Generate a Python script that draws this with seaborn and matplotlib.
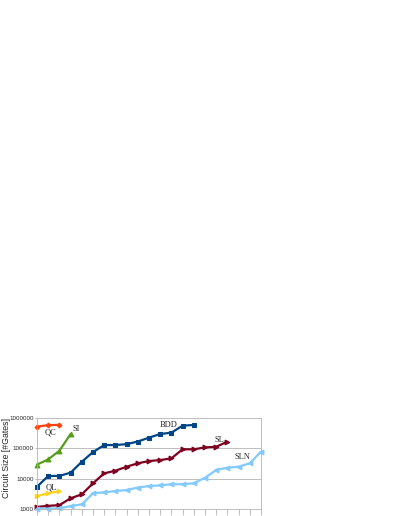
import matplotlib
matplotlib.use("Agg")
import matplotlib.pyplot as plt
import matplotlib.ticker as mticker
import numpy as np
import pandas as pd
import seaborn as sns

# circuit sizes (#gates) per benchmark index
qc = [520000, 580000, 590000]
si = [29000, 43000, 83000, 295000]
ql = [2700, 3270, 3900]
bdd = [5400, 12200, 12300, 15700, 36000, 75000, 128000, 128000, 137000,
       167000, 224000, 296000, 327000, 557000, 587000]
sl = [1170, 1270, 1340, 2250, 3040, 7000, 15000, 18200, 24700, 32000,
      38000, 41000, 46500, 92600, 92600, 107000, 112000, 165000]
sln = [1020, 1030, 1050, 1250, 1420, 3270, 3540, 3900, 4200, 5080, 5700,
       6000, 6500, 6600, 7000, 10700, 19200, 22900, 24700, 32000, 77000]

sns.set_style("white")
plt.rcParams["font.family"] = ["Liberation Sans", "DejaVu Sans"]

fig = plt.figure(figsize=(3.99, 5.16), dpi=100)
ax = fig.add_axes([0.0927, 0.0136, 0.5613, 0.1764])

series = [
    ("QC", qc, "#FF420E", "D", 2.5),
    ("SI", si, "#579D1C", "^", 3.5),
    ("QL", ql, "#FFD320", ">", 3.2),
    ("BDD", bdd, "#004586", "s", 3.5),
    ("SL", sl, "#7E0021", ">", 3.5),
    ("SLN", sln, "#83CAFF", "<", 3.5),
]
for name, vals, col, mk, ms in series:
    df = pd.DataFrame({"idx": np.arange(len(vals)), "gates": vals})
    sns.lineplot(data=df, x="idx", y="gates", color=col, marker=mk,
                 markersize=ms, markeredgecolor=col, linewidth=1.6, ax=ax,
                 clip_on=False)

ax.set_yscale("log")
ax.set_ylim(1000, 1000000)
ax.set_xlim(0, 20)
ax.yaxis.set_major_locator(mticker.LogLocator(base=10, numticks=10))
ax.yaxis.set_minor_locator(mticker.NullLocator())
ax.yaxis.set_major_formatter(mticker.FuncFormatter(lambda v, p: f"{int(round(v))}"))
ax.set_xticks(np.arange(0, 21))
ax.set_xticklabels([])
ax.tick_params(axis="x", length=4, width=0.6, color="#b3b3b3", direction="out", bottom=True)
ax.tick_params(axis="y", length=1.5, width=0.6, color="#b3b3b3", labelsize=4.5, pad=1, left=True)
ax.grid(axis="y", color="#b3b3b3", linewidth=0.6)
for s in ax.spines.values():
    s.set_color("#b3b3b3")
    s.set_linewidth(0.6)
ax.spines["top"].set_visible(False)
ax.set_xlabel("")
ax.set_ylabel("Circuit Size [#Gates]", fontsize=6.3)
ax.yaxis.set_label_coords(-0.118, 0.56)

lab = dict(fontsize=6, family=["Liberation Serif", "DejaVu Serif"], ha="center", va="center")
ax.text(1.2, 330000, "QC", **lab)
ax.text(3.5, 430000, "SI", **lab)
ax.text(1.3, 5200, "QL", **lab)
ax.text(11.8, 590000, "BDD", **lab)
ax.text(16.3, 190000, "SL", **lab)
ax.text(18.3, 52000, "SLN", **lab)

fig.savefig("out.png", dpi=100)
